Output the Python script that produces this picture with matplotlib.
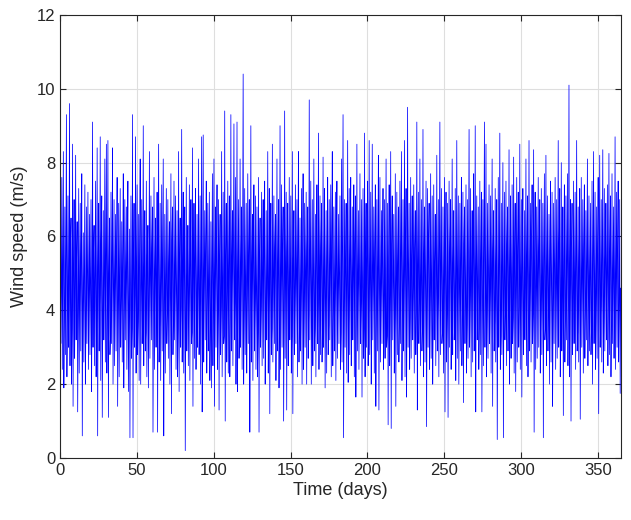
import numpy as np
import matplotlib
matplotlib.use("Agg")
import matplotlib.pyplot as plt

# daily highs of the wind speed trace (m/s), day 0..364
peaks = [
    6.2, 7.6, 8.3, 6.8, 9.3, 7.1, 9.6, 6.5, 8.5, 7.0,
    8.2, 6.4, 7.3, 6.9, 7.7, 6.1, 7.4, 6.8, 7.2, 6.6,
    7.0, 9.1, 6.3, 7.5, 8.4, 6.9, 8.7, 7.1, 6.7, 8.1,
    8.5, 8.6, 6.5, 7.2, 8.4, 7.0, 6.6, 7.6, 6.9, 7.3,
    6.4, 7.7, 7.0, 6.8, 7.5, 6.2, 7.1, 9.3, 6.9, 8.7,
    7.4, 6.6, 8.1, 7.0, 9.0, 6.7, 7.5, 6.3, 8.3, 7.1,
    6.8, 7.6, 6.5, 7.2, 8.5, 6.9, 7.4, 8.1, 6.6, 7.3,
    7.0, 6.4, 7.7, 6.8, 7.5, 7.1, 6.7, 8.3, 6.5, 8.9,
    7.2, 6.8, 7.6, 6.3, 7.4, 7.0, 8.4, 6.9, 7.3, 6.6,
    8.1, 7.1, 8.7, 8.75, 6.7, 7.5, 6.9, 7.2, 6.4, 7.7,
    8.1, 6.8, 7.4, 7.0, 6.6, 8.3, 7.2, 9.4, 6.9, 7.5,
    7.1, 9.3, 6.7, 9.05, 7.6, 9.1, 7.0, 8.1, 6.8, 10.4,
    7.3, 6.9, 7.7, 7.0, 9.0, 6.6, 7.4, 7.1, 6.8, 7.6,
    6.5, 7.2, 7.0, 7.5, 6.7, 8.3, 7.3, 6.9, 8.5, 7.1,
    6.6, 8.1, 7.0, 9.0, 7.4, 6.8, 9.4, 7.2, 6.9, 7.6,
    7.1, 8.3, 6.7, 7.4, 7.0, 8.3, 6.5, 7.3, 7.7, 6.9,
    7.2, 6.8, 9.7, 7.5, 7.0, 8.1, 6.6, 7.4, 8.8, 7.1,
    6.9, 8.15, 7.3, 6.7, 7.6, 7.0, 7.4, 8.3, 6.8, 7.2,
    7.5, 6.6, 7.1, 8.1, 9.3, 7.0, 6.9, 8.6, 7.3, 7.6,
    6.8, 7.4, 7.1, 8.5, 6.7, 7.7, 7.0, 7.3, 8.8, 6.9,
    7.5, 8.6, 7.2, 8.5, 6.8, 7.4, 7.0, 8.2, 7.6, 6.7,
    7.3, 7.0, 8.1, 6.9, 7.4, 8.3, 7.1, 6.6, 7.7, 7.2,
    6.8, 7.5, 8.3, 7.0, 8.6, 7.3, 9.5, 6.9, 7.6, 7.1,
    7.4, 6.7, 9.1, 7.2, 8.1, 7.0, 8.9, 6.8, 7.5, 7.3,
    6.9, 7.7, 7.1, 7.4, 6.6, 8.2, 7.0, 9.1, 7.3, 6.8,
    7.6, 7.2, 6.9, 7.5, 7.0, 8.1, 6.7, 7.3, 8.6, 7.1,
    6.9, 7.6, 7.2, 6.8, 7.4, 7.0, 8.9, 7.3, 6.7, 7.7,
    9.0, 7.1, 6.8, 7.5, 7.2, 7.0, 9.1, 8.5, 6.9, 7.4,
    7.1, 8.1, 6.7, 7.3, 7.0, 7.6, 8.8, 6.9, 8.0, 7.2,
    7.5, 6.8, 8.35, 7.1, 7.4, 8.15, 6.9, 7.6, 7.2, 8.5,
    7.0, 7.3, 6.7, 8.1, 7.1, 8.6, 6.9, 7.4, 8.35, 7.2,
    6.8, 7.6, 7.0, 7.3, 6.9, 7.7, 8.2, 7.1, 6.6, 7.5,
    7.2, 6.9, 7.6, 7.0, 8.6, 7.3, 8.0, 6.8, 7.4, 7.1,
    7.7, 10.1, 7.0, 6.9, 7.5, 7.2, 8.6, 6.8, 7.3, 7.6,
    7.0, 7.4, 6.7, 8.1, 7.1, 6.9, 7.5, 8.3, 7.2, 6.8,
    7.6, 8.2, 7.0, 8.35, 7.3, 6.9, 7.4, 8.25, 7.1, 7.7,
    6.8, 8.7, 7.2, 7.5, 7.0,
]

# daily lows of the wind speed trace (m/s), day 0..364
troughs = [
    3.1, 2.4, 1.9, 2.8, 2.2, 3.0, 2.5, 2.0, 1.4, 2.7,
    3.2, 1.25, 2.3, 2.9, 0.6, 2.6, 2.0, 3.1, 2.4, 2.8,
    1.8, 3.0, 2.5, 2.2, 0.6, 2.9, 2.1, 1.1, 3.2, 2.6,
    2.3, 1.1, 2.8, 3.1, 2.0, 2.5, 2.9, 1.4, 2.2, 3.0,
    2.6, 1.9, 3.2, 2.4, 1.8, 0.55, 2.7, 0.55, 3.0, 2.3,
    2.8, 2.1, 2.0, 3.1, 2.5, 2.9, 2.2, 1.9, 2.7, 3.2,
    0.7, 2.4, 3.0, 0.7, 2.6, 2.1, 2.9, 0.6, 2.3, 3.1,
    2.7, 2.0, 1.2, 2.8, 3.2, 2.4, 2.2, 1.8, 3.0, 2.6,
    2.3, 0.2, 2.9, 2.5, 2.1, 3.1, 1.4, 2.7, 2.4, 3.0,
    2.8, 2.0, 1.25, 2.6, 3.2, 2.3, 2.9, 2.1, 1.9, 2.5,
    1.4, 3.0, 2.4, 1.3, 2.8, 2.2, 3.1, 1.0, 2.6, 2.3,
    2.2, 2.9, 2.5, 3.2, 2.0, 1.8, 2.7, 3.0, 2.4, 2.0,
    2.8, 2.3, 3.1, 0.7, 2.6, 2.1, 2.9, 2.4, 2.2, 0.7,
    3.0, 2.5, 2.7, 2.0, 3.2, 2.3, 1.2, 2.8, 2.6, 3.1,
    2.1, 2.9, 1.9, 2.4, 3.0, 1.0, 2.7, 1.3, 2.5, 3.2,
    2.3, 1.2, 2.8, 3.1, 2.2, 2.6, 2.9, 2.0, 2.4, 3.0,
    2.0, 2.7, 3.2, 2.0, 2.5, 2.9, 2.2, 3.1, 2.4, 2.8,
    2.6, 3.0, 1.9, 2.3, 2.8, 3.2, 2.2, 2.5, 2.9, 2.1,
    2.7, 3.1, 2.4, 2.6, 0.55, 3.0, 2.3, 2.05, 2.8, 2.5,
    3.2, 2.2, 1.65, 2.9, 2.4, 3.1, 1.65, 2.7, 2.2, 3.0,
    2.5, 2.8, 2.0, 3.2, 2.3, 1.4, 2.9, 1.3, 2.6, 3.1,
    2.4, 2.7, 3.0, 0.9, 2.5, 0.8, 3.2, 2.3, 1.4, 2.8,
    2.6, 3.1, 2.1, 2.9, 2.2, 1.65, 3.0, 2.4, 2.7, 3.2,
    2.3, 2.8, 1.3, 3.1, 2.5, 2.9, 2.2, 2.6, 0.85, 3.0,
    2.4, 2.7, 2.0, 3.2, 2.5, 2.9, 2.2, 2.8, 3.1, 2.3,
    1.25, 2.6, 1.1, 3.0, 2.4, 2.8, 3.2, 2.1, 2.7, 2.0,
    2.9, 2.5, 1.5, 3.1, 2.3, 2.7, 3.0, 2.2, 2.6, 2.9,
    1.25, 3.2, 2.4, 2.8, 1.25, 2.5, 3.0, 2.2, 2.7, 3.1,
    2.3, 1.4, 2.9, 2.6, 0.5, 3.0, 2.4, 2.8, 0.55, 3.2,
    2.5, 2.9, 2.0, 2.7, 3.1, 2.3, 1.8, 2.6, 3.0, 2.4,
    1.65, 2.8, 3.2, 2.5, 2.2, 2.9, 2.6, 3.1, 0.7, 2.4,
    2.7, 3.0, 2.3, 2.8, 0.55, 3.2, 2.5, 2.9, 2.0, 2.6,
    1.4, 3.1, 2.4, 2.7, 3.0, 2.2, 2.9, 1.15, 2.6, 3.2,
    2.5, 2.2, 1.0, 2.8, 3.1, 2.4, 2.9, 2.6, 1.05, 3.0,
    2.3, 2.7, 3.2, 2.5, 2.9, 2.8, 2.0, 3.1, 2.4, 2.7,
    1.2, 3.0, 2.6, 2.3, 2.9, 3.2, 2.5, 2.8, 2.2, 3.1,
    2.7, 2.4, 3.0, 2.6, 1.75,
]

# mid-level rebound within each day (m/s), day 0..364
mids = [
    4.4, 5.2, 3.8, 5.5, 4.1, 4.7, 5.8, 3.5, 5.0, 4.3,
    5.4, 3.9, 4.6, 5.7, 4.2, 4.9, 3.4, 5.3, 4.5, 5.1,
    4.0, 5.6, 4.8, 3.7, 5.2, 4.4, 5.9, 3.6, 4.7, 5.5,
    4.2, 5.0, 3.3, 5.4, 4.5, 4.8, 5.7, 3.9, 5.1, 4.3,
    5.5, 3.8, 4.9, 5.6, 4.1, 4.6, 3.5, 5.3, 4.4, 5.2,
    3.7, 5.8, 4.6, 4.2, 5.0, 3.4, 5.5, 4.3, 4.8, 5.7,
    4.0, 5.1, 4.5, 5.4, 3.6, 4.9, 5.6, 4.2, 4.7, 3.9,
    5.3, 4.4, 5.9, 3.8, 5.0, 4.6, 3.5, 5.4, 4.1, 5.2,
    5.6, 3.9, 4.8, 4.5, 5.3, 3.4, 5.1, 5.7, 4.2, 4.6,
    4.0, 5.5, 3.7, 4.9, 5.8, 4.3, 4.7, 3.5, 5.2, 4.4,
    5.0, 5.6, 3.9, 5.4, 4.1, 4.8, 3.3, 5.5, 4.5, 5.1,
    3.8, 5.3, 5.7, 4.2, 4.6, 4.9, 3.6, 5.2, 5.9, 4.0,
    4.7, 4.4, 5.5, 3.7, 5.1, 5.6, 4.3, 4.8, 3.4, 5.4,
    4.1, 5.0, 5.8, 3.9, 4.6, 4.5, 5.3, 3.5, 4.9, 5.7,
    4.2, 5.2, 3.8, 4.7, 5.5, 4.0, 5.1, 5.6, 4.4, 4.8,
    3.3, 5.4, 4.5, 5.0, 5.8, 3.7, 4.6, 5.3, 4.1, 4.9,
    5.6, 3.9, 5.2, 4.4, 4.7, 3.5, 5.5, 4.2, 5.0, 5.7,
    3.8, 4.8, 4.3, 5.4, 3.6, 5.1, 5.9, 4.0, 4.6, 5.3,
    4.5, 4.9, 3.4, 5.6, 4.1, 5.2, 4.7, 3.8, 5.5, 4.4,
    5.0, 5.8, 3.9, 4.6, 5.3, 4.2, 4.8, 3.5, 5.4, 5.6,
    4.0, 5.1, 4.5, 4.9, 5.7, 3.7, 5.2, 4.3, 4.6, 5.5,
    4.1, 4.8, 3.3, 5.4, 4.4, 5.8, 5.0, 3.9, 4.7, 5.3,
    3.6, 5.5, 4.2, 4.9, 5.6, 4.5, 5.1, 3.8, 5.4, 4.6,
    5.7, 4.0, 5.2, 4.3, 4.8, 3.5, 5.5, 5.0, 4.1, 5.9,
    4.4, 4.7, 3.7, 5.3, 4.6, 4.2, 5.6, 4.9, 3.4, 5.1,
    5.4, 3.9, 4.8, 5.7, 4.5, 5.2, 3.8, 4.6, 5.0, 4.3,
    5.5, 4.0, 5.8, 4.7, 3.6, 5.3, 4.4, 4.9, 5.6, 4.1,
    5.1, 4.6, 3.5, 5.4, 4.2, 5.7, 4.8, 3.9, 5.2, 4.5,
    4.9, 5.6, 3.7, 5.3, 4.4, 5.0, 3.3, 5.5, 4.6, 4.0,
    5.8, 4.3, 5.1, 4.7, 3.8, 5.4, 4.5, 5.6, 4.1, 4.9,
    5.2, 3.6, 4.8, 5.5, 4.2, 4.6, 5.9, 3.9, 5.3, 4.4,
    5.0, 5.7, 4.0, 4.7, 5.4, 3.5, 5.1, 4.3, 5.6, 4.8,
    3.8, 5.2, 4.5, 4.9, 5.8, 4.1, 4.6, 5.3, 3.7, 5.5,
    4.4, 5.0, 5.6, 3.9, 4.7, 5.1, 3.4, 5.4, 4.2, 4.8,
    5.7, 4.0, 5.3, 4.5, 4.9, 3.6, 5.5, 4.6, 4.3, 5.8,
    4.7, 4.1, 5.2, 3.8, 5.4, 5.0, 4.4, 5.6, 3.9, 5.1,
    4.5, 4.8, 5.7, 4.2, 4.6,
]

days = np.arange(len(peaks))

# each day: high, then low, then a rebound to mid level
t = np.empty(3 * len(days))
v = np.empty(3 * len(days))
t[0::3] = days + 0.17
t[1::3] = days + 0.5
t[2::3] = days + 0.83
v[0::3] = peaks
v[1::3] = troughs
v[2::3] = mids

plt.rcParams['font.family'] = ['Liberation Sans', 'DejaVu Sans']

fig = plt.figure(figsize=(6.31, 5.2), dpi=100)
ax = fig.add_axes([0.0951, 0.1192, 0.8890, 0.8520])
ax.plot(t, v, color=(0, 0, 1), linewidth=0.55)

ax.set_xlim(0, 365)
ax.set_ylim(0, 12)
ax.set_xticks(np.arange(0, 351, 50))
ax.set_yticks(np.arange(0, 13, 2))
ax.grid(True, color='#dedede', linewidth=0.8)
ax.set_axisbelow(True)
ax.tick_params(direction='in', top=True, right=True, labelsize=12,
               colors='#262626', length=4, width=0.8)
for s in ax.spines.values():
    s.set_color('#262626')
    s.set_linewidth(0.8)
ax.set_xlabel('Time (days)', fontsize=13, color='#262626', labelpad=3)
ax.set_ylabel('Wind speed (m/s)', fontsize=13, color='#262626', labelpad=6)

fig.savefig('out.png', dpi=100)
